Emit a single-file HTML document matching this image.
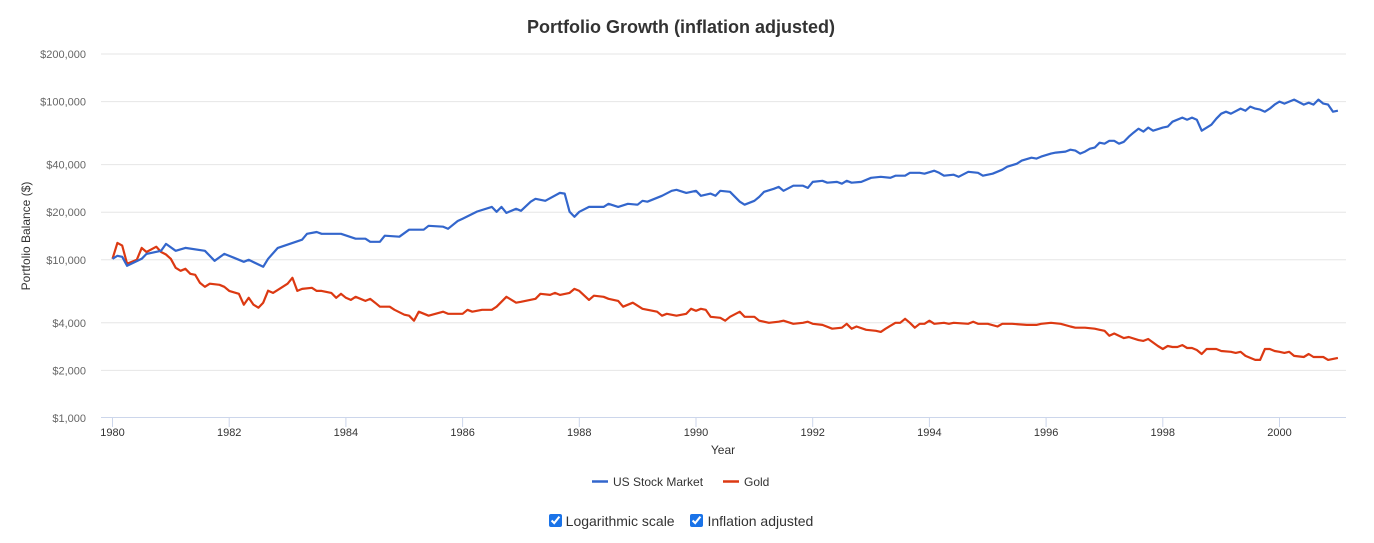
<!DOCTYPE html>
<html><head><meta charset="utf-8"><style>
body{margin:0;background:#fff;font-family:"Liberation Sans",sans-serif;}
#wrap{position:relative;width:1374px;height:543px;overflow:hidden;}
svg text{font-family:"Liberation Sans",sans-serif;}
#controls{position:absolute;left:0;top:513px;width:1362px;text-align:center;font-size:14px;color:#333;}
#controls label{margin:0 6px;}
#controls input{width:13px;height:13px;margin:0 4px 0 0;vertical-align:-1px;accent-color:#1a73e8;}
</style></head><body>
<div id="wrap">
<svg id="chart" width="1374" height="500"></svg>
<div id="controls">
<label><input type="checkbox" checked>Logarithmic scale</label>
<label><input type="checkbox" checked>Inflation adjusted</label>
</div>
</div>
<script>
// months since Jan 1980, balance in $
const stockMonths=[0,1,2,3,6,7,10,11,13,15,19,21,23,25,27,28,31,32,34,39,40,42,43,45,47,50,52,53,55,56,59,61,64,65,68,69,71,72,75,78,79,80,81,83,84,86,87,89,92,93,94,95,96,98,99,101,102,104,106,108,109,110,113,115,116,118,120,121,123,124,125,127,129,130,132,133,134,136,137,138,140,142,143,144,146,147,149,150,151,152,154,156,158,160,161,163,164,166,167,169,170,171,173,174,176,178,179,181,183,184,186,187,189,190,191,193,194,196,197,198,199,200,201,202,203,204,205,206,207,208,209,210,211,212,213,214,216,217,218,220,221,222,223,224,226,227,228,229,230,232,233,234,235,236,237,238,239,240,241,243,245,246,247,248,249,250,251,252];
const stockValues=[10150,10600,10450,9160,10150,10900,11400,12600,11400,11900,11400,9850,10900,10300,9710,10000,9030,10150,11900,13400,14600,15000,14600,14600,14600,13600,13600,13000,13000,14200,14000,15500,15500,16400,16200,15700,17600,18200,20200,21600,20100,21600,19800,21000,20400,23300,24300,23600,26500,26200,20100,18700,20100,21600,21600,21600,22600,21600,22600,22300,23600,23300,25400,27300,27700,26500,27300,25400,26200,25400,27300,26900,23300,22300,23600,25000,26900,28100,28900,27300,29400,29400,28500,31100,31600,30700,31100,30300,31600,30700,31100,33000,33500,33000,34000,34000,35500,35500,35000,36600,35500,34000,34500,33500,36000,35500,34000,35000,37100,38800,40500,42400,44200,43600,44900,46900,47600,48300,49700,49000,46900,48300,50400,51200,55000,54200,56500,56500,54200,55700,60000,63700,67400,64600,68500,65500,68500,69500,74700,79200,76900,79200,76900,65500,71500,78000,83900,86400,83900,90300,87600,93000,90300,89000,86400,90300,95700,100000,97100,103000,95700,98500,95700,103000,97100,95700,86400,87600];
const goldMonths=[0,1,2,3,5,6,7,9,10,11,12,13,14,15,16,17,18,19,20,22,23,24,26,27,28,29,30,31,32,33,34,36,37,38,39,41,42,43,45,46,47,48,49,50,52,53,54,55,57,58,60,61,62,63,65,68,69,71,72,73,74,76,78,79,81,83,84,87,88,90,91,92,94,95,96,98,99,101,102,104,105,107,109,112,113,114,116,118,119,120,121,122,123,125,126,127,129,130,132,133,135,137,138,140,142,143,144,146,148,150,151,152,153,155,157,158,159,161,162,163,164,165,166,167,168,169,171,172,173,176,177,178,180,182,183,185,188,190,191,193,195,197,198,200,202,203,204,205,206,208,209,211,212,213,215,216,217,218,219,220,221,222,223,224,225,227,228,230,231,232,233,234,235,236,237,238,239,240,241,242,243,245,246,247,249,250,252];
const goldValues=[10150,12800,12300,9430,10000,11900,11200,12100,11200,10800,10150,8900,8520,8770,8160,8040,7150,6750,7060,6950,6750,6360,6100,5200,5750,5200,4980,5360,6380,6180,6450,7060,7700,6360,6550,6650,6360,6360,6180,5750,6100,5750,5580,5840,5500,5660,5360,5050,5050,4830,4500,4430,4120,4700,4430,4700,4560,4560,4560,4830,4700,4830,4830,5050,5840,5360,5430,5670,6100,6000,6180,6000,6180,6550,6360,5580,5930,5840,5670,5500,5050,5360,4900,4700,4430,4560,4430,4560,4900,4760,4900,4830,4360,4300,4120,4360,4700,4360,4360,4120,4000,4060,4120,3940,4000,4060,3940,3880,3670,3720,3940,3670,3790,3610,3560,3500,3670,4000,4000,4240,4000,3720,3940,3940,4120,3940,4000,3940,4000,3940,4060,3940,3940,3790,3940,3940,3880,3880,3940,4000,3940,3790,3720,3720,3670,3610,3560,3310,3420,3200,3250,3110,3070,3160,2850,2730,2850,2810,2810,2890,2770,2770,2690,2540,2730,2730,2650,2620,2580,2620,2470,2400,2330,2330,2730,2730,2650,2620,2580,2620,2470,2430,2540,2430,2430,2330,2400];
const yTickValues=[1000,2000,4000,10000,20000,40000,100000,200000];
const yTickLabels=["$1,000","$2,000","$4,000","$10,000","$20,000","$40,000","$100,000","$200,000"];
const xTickYears=[1980,1982,1984,1986,1988,1990,1992,1994,1996,1998,2000];

const svg=document.getElementById('chart');
const NS='http://www.w3.org/2000/svg';
const plotL=101,plotR=1346,x0=112.5,perYear=58.35;
const yTop=54,yBot=418,logMin=3,logMax=Math.log10(200000);
function xScale(m){return x0+m/12*perYear;}
function yScale(v){return yBot-(Math.log10(v)-logMin)/(logMax-logMin)*(yBot-yTop);}
function mk(tag,attrs,parent){const e=document.createElementNS(NS,tag);for(const k in attrs)e.setAttribute(k,attrs[k]);(parent||svg).appendChild(e);return e;}

const title=mk('text',{x:681,y:33,'text-anchor':'middle','font-size':18,'font-weight':'bold',fill:'#333'});
title.textContent='Portfolio Growth (inflation adjusted)';



yTickValues.forEach((v,i)=>{
  const y=yScale(v);
  if(i>0){const g=mk('line',{x1:plotL,x2:plotR,y1:y,y2:y,stroke:'#e6e6e6','stroke-width':1});
  
  }
  const t=mk('text',{x:86,y:y+4,'text-anchor':'end','font-size':11,fill:'#666'});
  t.textContent=yTickLabels[i];
  
  
});
const ax=mk('line',{x1:plotL,x2:plotR,y1:417.5,y2:417.5,stroke:'#ccd6eb','stroke-width':1});


xTickYears.forEach(yr=>{
  const x=xScale((yr-1980)*12);
  const tk=mk('line',{x1:x,x2:x,y1:417,y2:427,stroke:'#ccd6eb','stroke-width':1});
  
  
  const t=mk('text',{x:x,y:436,'text-anchor':'middle','font-size':11,fill:'#333'});
  t.textContent=yr;
  
  
});
const xt=mk('text',{x:723,y:454,'text-anchor':'middle','font-size':12,fill:'#333'});
xt.textContent='Year';


const yt=mk('text',{x:0,y:0,'text-anchor':'middle','font-size':12,fill:'#333',transform:'translate(30,236) rotate(-90)'});
yt.textContent='Portfolio Balance ($)';



function line(months,vals,color,name){
  const d=months.map((m,i)=>(i?'L':'M')+xScale(m).toFixed(1)+','+yScale(vals[i]).toFixed(1)).join('');
  const p=mk('path',{d:d,fill:'none',stroke:color,'stroke-width':2.2,'stroke-linejoin':'round'});
  
  
}
line(goldMonths,goldValues,'#dc3912','gold-series-line');
line(stockMonths,stockValues,'#3366cc','stock-series-line');

function legend(x,color,label,name){
  const g=mk('g',{});
  
  
  mk('line',{x1:x,x2:x+16,y1:481.5,y2:481.5,stroke:color,'stroke-width':2.5},g);
  const t=mk('text',{x:x+21,y:486,'font-size':12,fill:'#333'},g);
  t.textContent=label;
}
legend(592,'#3366cc','US Stock Market','legend-us-stock-market');
legend(723,'#dc3912','Gold','legend-gold');
</script>
</body></html>
